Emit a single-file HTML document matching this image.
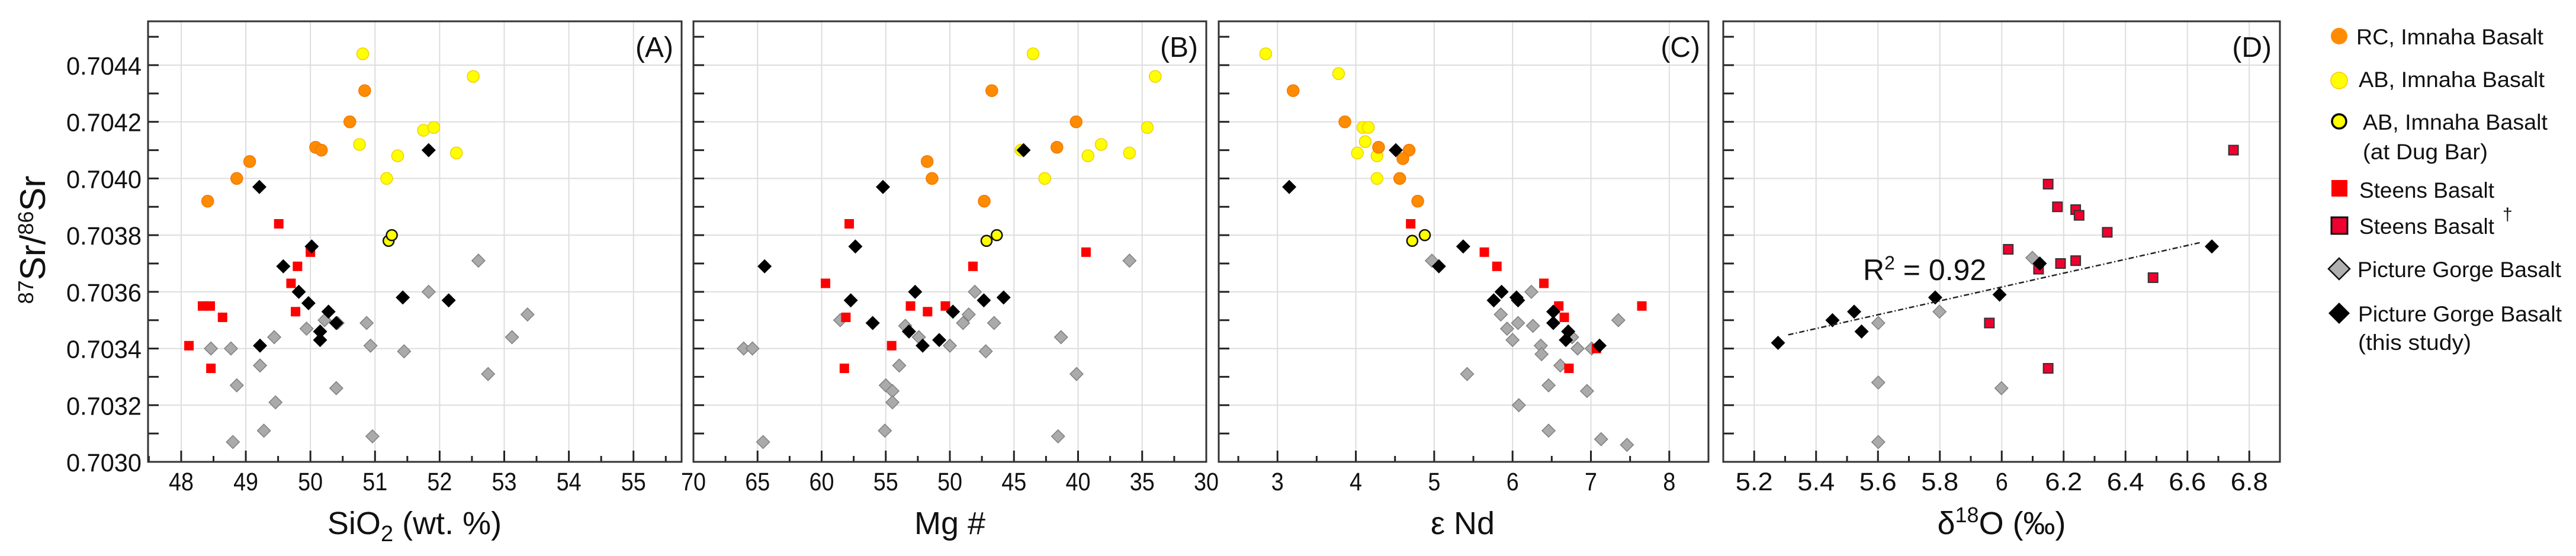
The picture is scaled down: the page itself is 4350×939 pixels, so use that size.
<!DOCTYPE html>
<html><head><meta charset="utf-8"><style>
html,body{margin:0;padding:0;background:#fff;}
svg{display:block;font-family:"Liberation Sans","DejaVu Sans",sans-serif;}
</style></head><body>
<svg id="fig" width="4350" height="939" viewBox="0 0 4350 939" xmlns="http://www.w3.org/2000/svg"></svg>
<script>
// ---------- data ----------
const yTicks = [0.7030,0.7032,0.7034,0.7036,0.7038,0.7040,0.7042,0.7044];
const yTickLabels = ["0.7030","0.7032","0.7034","0.7036","0.7038","0.7040","0.7042","0.7044"];

// Panel A: SiO2
const aTicks = [48,49,50,51,52,53,54,55];
const aRcX = [48.41,48.86,49.06,50.08,50.17,50.61,50.84];
const aRcY = [0.70392,0.70400,0.70406,0.70411,0.70410,0.70420,0.70431];
const aAbX = [50.81,52.52,51.75,51.91,50.76,51.35,52.26,51.18];
const aAbY = [0.70444,0.70436,0.70417,0.70418,0.70412,0.70408,0.70409,0.70400];
const aDugX = [51.21,51.26];
const aDugY = [0.70378,0.70380];
const aStX = [48.12,48.33,48.45,48.64,48.46,49.51,50.00,49.80,49.70,49.77];
const aStY = [0.70341,0.70355,0.70355,0.70351,0.70333,0.70384,0.70374,0.70369,0.70363,0.70353];
const aPgX = [52.60,51.83,53.36,53.12,52.75,50.87,50.93,51.45,50.96,50.40,50.42,50.22,49.94,49.44,48.46,48.77,49.22,48.86,49.46,49.28,48.80];
const aPgY = [0.70371,0.70360,0.70352,0.70344,0.70331,0.70349,0.70341,0.70339,0.70309,0.70326,0.70349,0.70350,0.70347,0.70344,0.70340,0.70340,0.70334,0.70327,0.70321,0.70311,0.70307];
const aPgsX = [49.21,51.83,50.02,49.58,49.82,49.97,50.28,50.40,50.15,50.15,49.22,51.43,52.14];
const aPgsY = [0.70397,0.70410,0.70376,0.70369,0.70360,0.70356,0.70353,0.70349,0.70346,0.70343,0.70341,0.70358,0.70357];

// Panel B: Mg#
const bTicks = [70,65,60,55,50,45,40,35,30];
const bRcX = [46.73,40.15,41.65,51.77,51.39,47.32];
const bRcY = [0.70431,0.70420,0.70411,0.70406,0.70400,0.70392];
const bAbX = [43.51,33.98,34.6,38.2,39.23,35.99,42.6,44.45];
const bAbY = [0.70444,0.70436,0.70418,0.70412,0.70408,0.70409,0.70400,0.70410];
const bDugX = [47.14,46.34];
const bDugY = [0.70378,0.70380];
const bStX = [57.85,39.38,48.2,59.7,53.07,51.74,50.35,58.11,54.54,58.23];
const bStY = [0.70384,0.70374,0.70369,0.70363,0.70355,0.70353,0.70355,0.70351,0.70341,0.70333];
const bPgX = [35.99,48.05,48.53,48.97,46.55,41.33,40.12,47.2,50.0,52.42,53.48,58.55,66.08,65.4,53.95,55.0,54.48,54.48,55.07,41.56,64.57];
const bPgY = [0.70371,0.70360,0.70352,0.70349,0.70349,0.70344,0.70331,0.70339,0.70341,0.70344,0.70348,0.70350,0.70340,0.70340,0.70334,0.70327,0.70325,0.70321,0.70311,0.70309,0.70307];
const bPgsX = [55.22,44.25,57.37,64.45,52.71,57.73,47.35,45.81,49.76,56.02,53.19,52.12,50.83];
const bPgsY = [0.70397,0.70410,0.70376,0.70369,0.70360,0.70357,0.70357,0.70358,0.70353,0.70349,0.70346,0.70341,0.70343];

// Panel C: eps Nd
const cTicks = [3,4,5,6,7,8];
const cRcX = [3.20,3.86,4.29,4.68,4.60,4.56,4.79];
const cRcY = [0.70431,0.70420,0.70411,0.70410,0.70407,0.70400,0.70392];
const cAbX = [2.85,3.78,4.09,4.16,4.12,4.02,4.27,4.27];
const cAbY = [0.70444,0.70437,0.70418,0.70418,0.70413,0.70409,0.70408,0.70400];
const cDugX = [4.72,4.88];
const cDugY = [0.70378,0.70380];
const cStX = [4.70,5.64,5.80,6.40,6.59,6.66,7.65,7.07,6.72];
const cStY = [0.70384,0.70374,0.70369,0.70363,0.70355,0.70351,0.70355,0.70340,0.70333];
const cPgX = [4.97,6.24,5.85,6.07,6.26,5.93,6.00,6.36,6.37,6.76,6.83,7.01,7.35,6.61,5.42,6.46,6.95,6.08,6.46,7.13,7.46];
const cPgY = [0.70371,0.70360,0.70352,0.70349,0.70348,0.70347,0.70343,0.70341,0.70338,0.70344,0.70340,0.70340,0.70350,0.70334,0.70331,0.70327,0.70325,0.70320,0.70311,0.70308,0.70306];
const cPgsX = [3.15,4.51,5.37,5.06,5.86,5.76,6.05,6.07,6.52,6.52,6.71,6.68,7.11];
const cPgsY = [0.70397,0.70410,0.70376,0.70369,0.70360,0.70357,0.70358,0.70357,0.70353,0.70349,0.70346,0.70343,0.70341];

// Panel D: d18O
const dTicks = [5.2,5.4,5.6,5.8,6.0,6.2,6.4,6.6,6.8];
const dTickLabels = ["5.2","5.4","5.6","5.8","6","6.2","6.4","6.6","6.8"];
const dSt2X = [6.749,6.150,6.180,6.239,6.250,6.341,6.021,6.239,6.190,6.119,6.489,5.960,6.150];
const dSt2Y = [0.70410,0.70398,0.70390,0.70389,0.70387,0.70381,0.70375,0.70371,0.70370,0.70368,0.70365,0.70349,0.70333];
const dPgX = [5.601,5.799,6.099,5.601,5.999,5.601];
const dPgY = [0.70349,0.70353,0.70372,0.70328,0.70326,0.70307];
const dPgsX = [5.277,5.453,5.523,5.547,5.785,5.993,6.123,6.679];
const dPgsY = [0.70342,0.70350,0.70353,0.70346,0.70358,0.70359,0.70370,0.70376];
const dFitRange = [5.31,6.64];

// ---------- drawing ----------
const NS = "http://www.w3.org/2000/svg";
const svg = document.getElementById("fig");
function mk(tag, attrs, parent, text){
  const e = document.createElementNS(NS, tag);
  for (const k in attrs) e.setAttribute(k, attrs[k]);
  if (text !== undefined) e.textContent = text;
  (parent || svg).appendChild(e);
  return e;
}
const TOP = 36, BOT = 780, YMIN = 0.7030, YMAX = 0.7030 + 744/670*0.0014;
function yS(v){ return BOT - (v - YMIN)/(YMAX - YMIN)*(BOT - TOP); }

function marker(g, kind, x, y){
  let e;
  if (kind === "rc"){
    e = mk("ellipse",{cx:x,cy:y,rx:10,ry:10,fill:"#ff8c00",stroke:"#f07800","stroke-width":1.5},g);
    
  } else if (kind === "ab"){
    e = mk("ellipse",{cx:x,cy:y,rx:10,ry:10,fill:"#ffff00",stroke:"#f0d000","stroke-width":1.5},g);
    
  } else if (kind === "dug"){
    e = mk("ellipse",{cx:x,cy:y,rx:9,ry:9,fill:"#ffff00",stroke:"#111","stroke-width":2.5},g);
    
  } else if (kind === "st"){
    e = mk("rect",{x:x-8,y:y-8,width:16,height:16,fill:"#ff0000"},g);
    
  } else if (kind === "st2"){
    e = mk("rect",{x:x-8,y:y-8,width:16,height:16,fill:"#ee0030",stroke:"#333","stroke-width":2},g);
    
  } else if (kind === "pg"){
    e = mk("polygon",{points:`${x},${y-11} ${x+11},${y} ${x},${y+11} ${x-11},${y}`,fill:"#aaaaaa",stroke:"#808080","stroke-width":1.5},g);
    
  } else {
    e = mk("polygon",{points:`${x},${y-12} ${x+12},${y} ${x},${y+12} ${x-12},${y}`,fill:"#000"},g);
    
  }
  
}

function panel(o){
  const g = mk("g",{});
  
  
  const xS = v => o.x0 + (v - o.xmin)/(o.xmax - o.xmin)*(o.x1 - o.x0);
  // gridlines
  yTicks.forEach(t => { const l = mk("line",{x1:o.x0,x2:o.x1,y1:yS(t),y2:yS(t),stroke:"#dddddd","stroke-width":2},g);
      });
  o.ticks.forEach(t => { const l = mk("line",{x1:xS(t),x2:xS(t),y1:TOP,y2:BOT,stroke:"#dddddd","stroke-width":2},g);
      });
  // y ticks major/minor
  for (let i=0;i<=15;i++){
    const v = 0.7030 + i*0.0001; const len = 18;
    mk("line",{x1:o.x0,x2:o.x0+len,y1:yS(v),y2:yS(v),stroke:"#222","stroke-width":3},g);
  }
  // x ticks
  o.ticks.forEach(t => mk("line",{x1:xS(t),x2:xS(t),y1:BOT,y2:BOT-19,stroke:"#222","stroke-width":3},g));
  o.minor.forEach(t => mk("line",{x1:xS(t),x2:xS(t),y1:BOT,y2:BOT-10,stroke:"#222","stroke-width":3},g));
  // tick labels
  o.ticks.forEach((t,i) => {
    const s = o.labels ? o.labels[i] : String(t);
    const tx = mk("text",{x:xS(t),y:828,"font-size":43,"text-anchor":"middle",fill:"#111",textLength:s.length*21,lengthAdjust:"spacingAndGlyphs"},g,s);
     
  });
  // series
  (o.series||[]).forEach(s => s.xs.forEach((xv,i) => marker(g, s.kind, xS(xv), yS(s.ys[i]))));
  // frame
  const fr = mk("rect",{x:o.x0,y:TOP,width:o.x1-o.x0,height:BOT-TOP,fill:"none",stroke:"#333","stroke-width":3},g);
   
  // panel label
  const pl = mk("text",{x:o.x1-14,y:96,"font-size":48,"text-anchor":"end",fill:"#111"},g,o.tag);
   
  // axis title
  const at = mk("text",{x:o.titleX,y:902,"font-size":54,"text-anchor":"middle",fill:"#111"},g);
   
  at.innerHTML = o.title;
  return {g, xS};
}

const half = (a,b,st) => { const r=[]; for (let v=a; v<=b+1e-9; v+=st) r.push(+v.toFixed(3)); return r; };

panel({name:"panel-a-sio2",tag:"(A)",x0:250,x1:1151,xmin:47.487,xmax:55.745,ticks:aTicks,minor:half(47.5,55.5,1),
  title:'SiO<tspan baseline-shift="-12" font-size="38">2</tspan> (wt. %)',titleX:700,
  series:[{kind:"pg",xs:aPgX,ys:aPgY},{kind:"st",xs:aStX,ys:aStY},{kind:"rc",xs:aRcX,ys:aRcY},{kind:"ab",xs:aAbX,ys:aAbY},{kind:"dug",xs:aDugX,ys:aDugY},{kind:"pgs",xs:aPgsX,ys:aPgsY}]});
panel({name:"panel-b-mg-number",tag:"(B)",x0:1171,x1:2037,xmin:70,xmax:30,ticks:bTicks,minor:half(32.5,67.5,5),
  title:'Mg #',titleX:1604,
  series:[{kind:"pg",xs:bPgX,ys:bPgY},{kind:"st",xs:bStX,ys:bStY},{kind:"rc",xs:bRcX,ys:bRcY},{kind:"ab",xs:bAbX,ys:bAbY},{kind:"dug",xs:bDugX,ys:bDugY},{kind:"pgs",xs:bPgsX,ys:bPgsY}]});
panel({name:"panel-c-eps-nd",tag:"(C)",x0:2058,x1:2885,xmin:2.25,xmax:8.5,ticks:cTicks,minor:half(2.5,8,1),
  title:'ε Nd',titleX:2470,
  series:[{kind:"pg",xs:cPgX,ys:cPgY},{kind:"ab",xs:cAbX,ys:cAbY},{kind:"rc",xs:cRcX,ys:cRcY},{kind:"st",xs:cStX,ys:cStY},{kind:"dug",xs:cDugX,ys:cDugY},{kind:"pgs",xs:cPgsX,ys:cPgsY}]});
const pd = panel({name:"panel-d-d18o",tag:"(D)",x0:2910,x1:3850,xmin:5.1,xmax:6.899,ticks:dTicks,labels:dTickLabels,minor:half(5.3,6.7,0.2),
  title:'δ<tspan baseline-shift="super" font-size="36">18</tspan>O (‰)',titleX:3380,
  series:[{kind:"pg",xs:dPgX,ys:dPgY},{kind:"st2",xs:dSt2X,ys:dSt2Y},{kind:"pgs",xs:dPgsX,ys:dPgsY}]});

// regression line (least squares on this-study points)
(function(){
  const n=dPgsX.length; let sx=0,sy=0,sxx=0,sxy=0;
  for(let i=0;i<n;i++){sx+=dPgsX[i];sy+=dPgsY[i];sxx+=dPgsX[i]*dPgsX[i];sxy+=dPgsX[i]*dPgsY[i];}
  const m=(n*sxy-sx*sy)/(n*sxx-sx*sx), b=(sy-m*sx)/n;
  const l = mk("line",{x1:pd.xS(dFitRange[0]),y1:yS(m*dFitRange[0]+b),x2:pd.xS(dFitRange[1]),y2:yS(m*dFitRange[1]+b),stroke:"#222","stroke-width":2.5,"stroke-dasharray":"9 4 2 4"},pd.g);
   
  const t = mk("text",{x:3146,y:473,"font-size":50,fill:"#111"},pd.g);
   
  t.innerHTML='R<tspan baseline-shift="super" font-size="32">2</tspan> = 0.92';
})();

// y tick labels (panel A)
yTicks.forEach((t,i)=>{
  const s=yTickLabels[i];
  const tx=mk("text",{x:239,y:yS(t)+16,"font-size":43,"text-anchor":"end",fill:"#111",textLength:127,lengthAdjust:"spacingAndGlyphs"},svg,s);
   
});
// y axis title
const yt = mk("text",{x:0,y:0,"font-size":60,"text-anchor":"middle",fill:"#111",transform:"translate(76,405) rotate(-90)"});
 
yt.innerHTML='<tspan baseline-shift="super" font-size="36">87</tspan>Sr/<tspan baseline-shift="super" font-size="36">86</tspan>Sr';

// legend
const lg = mk("g",{});
 
const legendRows = [
  {kind:"rc",my:61,lines:[["RC, Imnaha Basalt",3979,75,316]]},
  {kind:"ab",my:136,lines:[["AB, Imnaha Basalt",3983,147,314]]},
  {kind:"dug",my:205,lines:[["AB, Imnaha Basalt",3990,219,312],["(at Dug Bar)",3990,269,211]]},
  {kind:"st",my:318,lines:[["Steens Basalt",3984,334,228]]},
  {kind:"st2",my:381,lines:[["Steens Basalt",3984,395,228]]},
  {kind:"pg",my:454,lines:[["Picture Gorge Basalt",3981,468,344]]},
  {kind:"pgs",my:529,lines:[["Picture Gorge Basalt",3982,543,344],["(this study)",3982,591,191]]}
];
legendRows.forEach(r=>{
  const eg = mk("g",{},lg);
   
  const x=3950, y=r.my;
  if(r.kind==="rc") mk("circle",{cx:x,cy:y,r:14,fill:"#ff8c00"},eg);
  else if(r.kind==="ab") mk("circle",{cx:x,cy:y,r:14,fill:"#ffff00",stroke:"#ffc400","stroke-width":1.5},eg);
  else if(r.kind==="dug") mk("circle",{cx:x,cy:y,r:12,fill:"#ffff00",stroke:"#000","stroke-width":3.5},eg);
  else if(r.kind==="st") mk("rect",{x:x-13,y:y-14,width:27,height:28,fill:"#ff0000"},eg);
  else if(r.kind==="st2") mk("rect",{x:x-13,y:y-14,width:27,height:28,fill:"#ee0030",stroke:"#111","stroke-width":3},eg);
  else if(r.kind==="pg") mk("polygon",{points:`${x},${y-18} ${x+18},${y} ${x},${y+18} ${x-18},${y}`,fill:"#b0b0b0",stroke:"#111","stroke-width":2.5},eg);
  else mk("polygon",{points:`${x},${y-18} ${x+18},${y} ${x},${y+18} ${x-18},${y}`,fill:"#000"},eg);
  r.lines.forEach(l=>mk("text",{x:l[1],y:l[2],"font-size":37,fill:"#111",textLength:l[3],lengthAdjust:"spacingAndGlyphs"},eg,l[0]));
});
mk("text",{x:4226,y:372,"font-size":30,fill:"#111"},lg,"†");
</script>
</body></html>
